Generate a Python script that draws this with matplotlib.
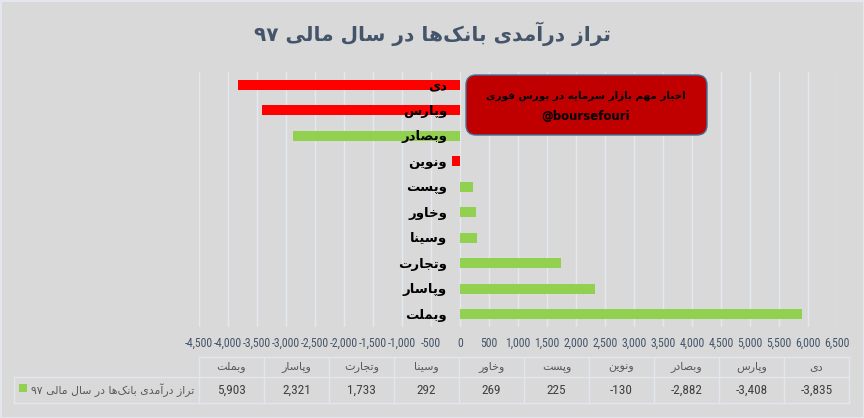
import re
import matplotlib
matplotlib.use('Agg')
import matplotlib.pyplot as plt
from matplotlib import font_manager
from matplotlib.patches import FancyBboxPatch, Rectangle
from matplotlib.transforms import offset_copy

# ---------------- data ----------------
categories = ['دی', 'وپارس', 'وبصادر', 'ونوین', 'وپست', 'وخاور', 'وسینا', 'وتجارت', 'وپاسار', 'وبملت']
values = [-3835, -3408, -2882, -130, 225, 269, 292, 1733, 2321, 5903]
red_categories = ['دی', 'وپارس', 'ونوین']
series_name = 'تراز درآمدی بانک‌ها در سال مالی ۹۷'
title = 'تراز درآمدی بانک‌ها در سال مالی ۹۷'
box_line1 = 'اخبار مهم بازار سرمایه در بورس فوری'
box_line2 = '@boursefouri'
x_ticks = list(range(-4500, 6501, 500))

# ---------------- simple Persian shaping ----------------
FORMS = {
    'ا': ('\uFE8D', '\uFE8E', None, None),
    'آ': ('\uFE81', '\uFE82', None, None),
    'د': ('\uFEA9', '\uFEAA', None, None),
    'ر': ('\uFEAD', '\uFEAE', None, None),
    'ز': ('\uFEAF', '\uFEB0', None, None),
    'و': ('\uFEED', '\uFEEE', None, None),
    'ب': ('\uFE8F', '\uFE90', '\uFE91', '\uFE92'),
    'پ': ('\uFB56', '\uFB57', '\uFB58', '\uFB59'),
    'ت': ('\uFE95', '\uFE96', '\uFE97', '\uFE98'),
    'ج': ('\uFE9D', '\uFE9E', '\uFE9F', '\uFEA0'),
    'خ': ('\uFEA5', '\uFEA6', '\uFEA7', '\uFEA8'),
    'س': ('\uFEB1', '\uFEB2', '\uFEB3', '\uFEB4'),
    'ص': ('\uFEB9', '\uFEBA', '\uFEBB', '\uFEBC'),
    'ف': ('\uFED1', '\uFED2', '\uFED3', '\uFED4'),
    'ل': ('\uFEDD', '\uFEDE', '\uFEDF', '\uFEE0'),
    'م': ('\uFEE1', '\uFEE2', '\uFEE3', '\uFEE4'),
    'ن': ('\uFEE5', '\uFEE6', '\uFEE7', '\uFEE8'),
    'ه': ('\uFEE9', '\uFEEA', '\uFEEB', '\uFEEC'),
    'ی': ('\uFBFC', '\uFBFD', '\uFBFE', '\uFBFF'),
    'ک': ('\uFB8E', '\uFB8F', '\uFB90', '\uFB91'),
}


def fa(text):
    n = len(text)
    out = []

    def dual(c):
        return c in FORMS and FORMS[c][2] is not None

    for i, c in enumerate(text):
        if c not in FORMS:
            if c != '\u200c':
                out.append(c)
            continue
        prev = text[i - 1] if i > 0 else ''
        nxt = text[i + 1] if i + 1 < n else ''
        p = dual(prev)
        q = dual(c) and nxt in FORMS
        iso, fin, ini, med = FORMS[c]
        if p and q:
            g = med
        elif p:
            g = fin
        elif q:
            g = ini
        else:
            g = iso
        out.append(g)
    s = ''.join(out)[::-1]
    s = re.sub(r'[0-9\u06F0-\u06F9,.]+', lambda m: m.group(0)[::-1], s)
    return s


names = {f.name for f in font_manager.fontManager.ttflist}
NARROW = 'Liberation Sans'
TICK_FS = 7.5
for cand in ['Liberation Sans Narrow', 'Roboto Condensed', 'Open Sans Condensed', 'Arial Narrow']:
    if cand in names:
        NARROW = cand
        TICK_FS = 8.5
        break

BG = '#D9D9D9'
W, H = 864, 418
fig = plt.figure(figsize=(W / 100, H / 100), dpi=100, facecolor=BG)

# ---------------- main chart ----------------
ax = fig.add_axes([199 / W, 1 - 327 / H, (837 - 199) / W, (327 - 72) / H])
ax.set_facecolor(BG)
ypos = list(range(len(categories)))
colors = ['#FF0000' if c in red_categories else '#92D050' for c in categories]
ax.barh(ypos, values, height=0.4, color=colors, zorder=3)
ax.set_xlim(x_ticks[0], x_ticks[-1])
ax.set_ylim(len(categories) - 0.5, -0.5)
ax.set_xticks(x_ticks)
ax.set_xticklabels([f'{t:,}' for t in x_ticks], fontfamily=NARROW, fontsize=TICK_FS, color='#44546A')
ax.grid(axis='x', color='#E4E9EF', lw=1)
ax.set_axisbelow(True)
for s in ax.spines.values():
    s.set_visible(False)
ax.set_yticks([])
ax.tick_params(axis='x', length=0, pad=7)

lab_trans = offset_copy(ax.transData, fig=fig, x=-13, y=-1, units='dots')
for yp, c in zip(ypos, categories):
    ax.text(0, yp, fa(c), transform=lab_trans, ha='right', va='center',
            fontfamily='DejaVu Sans', fontweight='bold', fontsize=9.5,
            color='black', zorder=5)

# ---------------- overlay (pixel coords) ----------------
ov = fig.add_axes([0, 0, 1, 1], zorder=5)
ov.set_xlim(0, W)
ov.set_ylim(H, 0)
ov.axis('off')
ov.patch.set_alpha(0)

ov.text(432, 34, fa(title), ha='center', va='center', fontsize=14.5,
        fontweight='bold', color='#44546A', fontfamily='DejaVu Sans')

box = FancyBboxPatch((466, 75), 241, 60, boxstyle='round,pad=0,rounding_size=10',
                     fc='#C00000', ec='#41719C', lw=1)
ov.add_patch(box)
ov.text(586, 96, fa(box_line1), ha='center', va='center', fontsize=7.5,
        fontweight='bold', color='black', fontfamily='DejaVu Sans')
ov.text(586, 117, box_line2, ha='center', va='center', fontsize=8.5,
        fontweight='bold', color='black', fontfamily='DejaVu Sans')

# ---------------- data table ----------------
L, X0, R = 14, 199, 849
T, M, B = 357, 377, 403
ncol = len(categories)
cw = (R - X0) / ncol
lc = '#E2E7EE'
ov.plot([X0, R], [T, T], color=lc, lw=1)
ov.plot([L, R], [M, M], color=lc, lw=1)
ov.plot([L, R], [B, B], color=lc, lw=1)
ov.plot([L, L], [M, B], color=lc, lw=1)
for k in range(ncol + 1):
    ov.plot([X0 + k * cw] * 2, [T, B], color=lc, lw=1)

tab_cats = categories[::-1]
tab_vals = values[::-1]
for k, (c, v) in enumerate(zip(tab_cats, tab_vals)):
    cx = X0 + (k + 0.5) * cw
    ov.text(cx, (T + M) / 2, fa(c), ha='center', va='center', fontsize=8,
            color='#595959', fontfamily='DejaVu Sans')
    ov.text(cx, (M + B) / 2, f'{v:,}', ha='center', va='center', fontsize=9.5,
            color='#404040', fontfamily=NARROW)

ov.add_patch(Rectangle((19, 384), 8, 8, fc='#92D050', ec='none'))
ov.text(194, (M + B) / 2, fa(series_name), ha='right', va='center', fontsize=7.8,
        color='#595959', fontfamily='DejaVu Sans')

ov.add_patch(Rectangle((0.5, 0.5), W - 1, H - 1, fc='none', ec='#E3E7ED', lw=1.5))

fig.savefig('out.png', dpi=100, facecolor=BG)
